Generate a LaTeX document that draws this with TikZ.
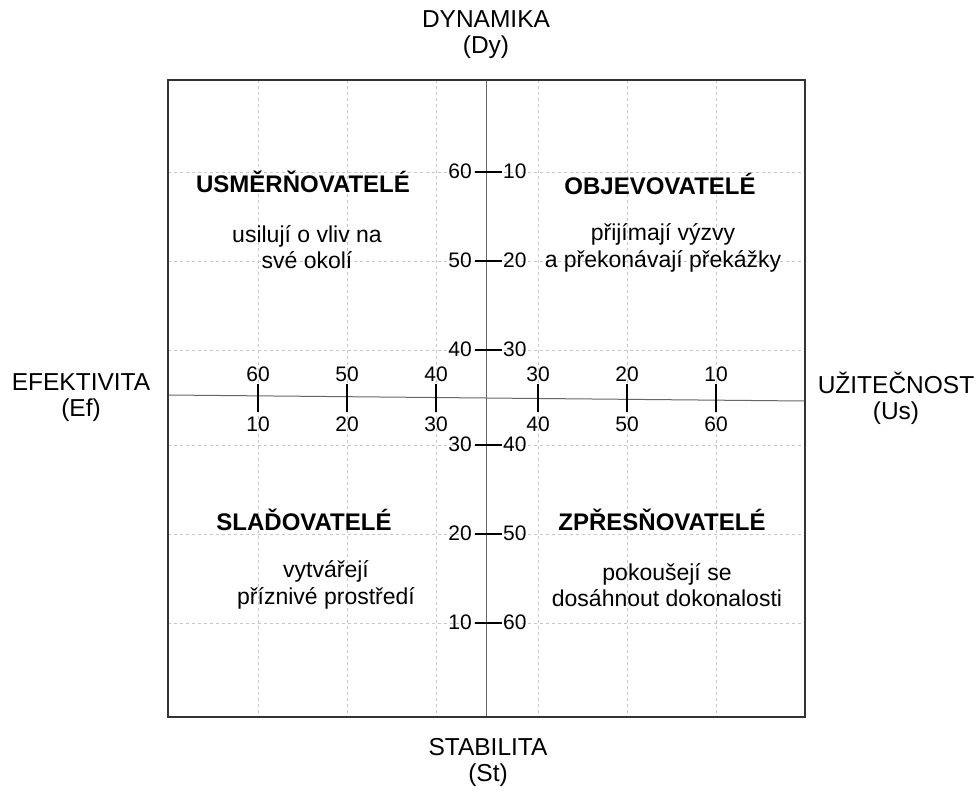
\documentclass[tikz,border=0pt]{standalone}
\usepackage{fontspec}
\setmainfont{Liberation Sans}
\begin{document}
\begin{tikzpicture}[x=1pt,y=-1pt,
  frame/.style={draw=black!80, line width=2pt},
  axisline/.style={draw=black!60, line width=1pt},
  gridline/.style={draw=black!22, line width=0.8pt, dash pattern=on 3pt off 3pt},
  tickline/.style={draw=black, line width=1.6pt},
  ticklbl/.style={inner sep=0pt, font=\fontsize{21}{23}\selectfont},
  axislbl/.style={align=center, inner sep=0pt, font=\fontsize{24.5}{26}\selectfont},
  qtitle/.style={inner sep=0pt, font=\fontsize{24}{28}\selectfont\bfseries},
  qtext/.style={align=center, inner sep=0pt, font=\fontsize{23}{26.5}\selectfont}]
\useasboundingbox (0,0) rectangle (976,790);
\fill[white] (0,0) rectangle (976,790);
% grid
\foreach \gx in {258,347,436,538,627,716}
  \draw[gridline] (\gx,80) -- (\gx,717);
\foreach \gy in {172,261,350,445,534,623}
  \draw[gridline] (168,\gy) -- (805,\gy);
% axes
\coordinate (axL) at (168,395);
\coordinate (axR) at (805,401);
\coordinate (axT) at (486,80);
\coordinate (axB) at (486,717);
\draw[axisline] (axL) -- (axR);
\draw[axisline] (axT) -- (axB);
% frame
\draw[frame] (168,80) rectangle (805,717);
% vertical axis ticks
\foreach \ty/\l/\r [count=\i] in {172/60/10,261/50/20,350/40/30,445/30/40,534/20/50,623/10/60}{
  \coordinate (vt\i a) at (475,\ty);
  \coordinate (vt\i b) at (502,\ty);
  \draw[tickline, line width=1.3pt] (vt\i a) -- (vt\i b);
  \node[ticklbl, anchor=east] (vl\i) at (472,\ty-1) {\l};
  \node[ticklbl, anchor=west] (vr\i) at (503,\ty-1) {\r};
}
% horizontal axis ticks
\foreach \tx/\u/\d [count=\i] in {258/60/10,347/50/20,436/40/30,538/30/40,627/20/50,716/10/60}{
  \coordinate (ht\i a) at (\tx,384);
  \coordinate (ht\i b) at (\tx,412);
  \draw[tickline] (ht\i a) -- (ht\i b);
  \node[ticklbl] (hu\i) at (\tx,374) {\u};
  \node[ticklbl] (hd\i) at (\tx,424) {\d};
}
% outer labels
\node[axislbl] (dy) at (486,35) {DYNAMIKA\\(Dy)};
\node[axislbl] (st) at (488,762) {STABILITA\\(St)};
\node[axislbl] (ef) at (81,398) {EFEKTIVITA\\(Ef)};
\node[axislbl] (us) at (896,398) {UŽITEČNOST\\(Us)};
% quadrants
\node[qtitle] (q1t) at (303,182) {USMĚRŇOVATELÉ};
\node[qtext] (q1s) at (307,247) {usilují o vliv na\\své okolí};
\node[qtitle] (q2t) at (660,184) {OBJEVOVATELÉ};
\node[qtext] (q2s) at (663,248) {přijímají výzvy\\a překonávají překážky};
\node[qtitle] (q3t) at (304,520) {SLAĎOVATELÉ};
\node[qtext] (q3s) at (326,585) {vytvářejí\\příznivé prostředí};
\node[qtitle] (q4t) at (662,520) {ZPŘESŇOVATELÉ};
\node[qtext] (q4s) at (667,585) {pokoušejí se\\dosáhnout dokonalosti};
\end{tikzpicture}
\end{document}
